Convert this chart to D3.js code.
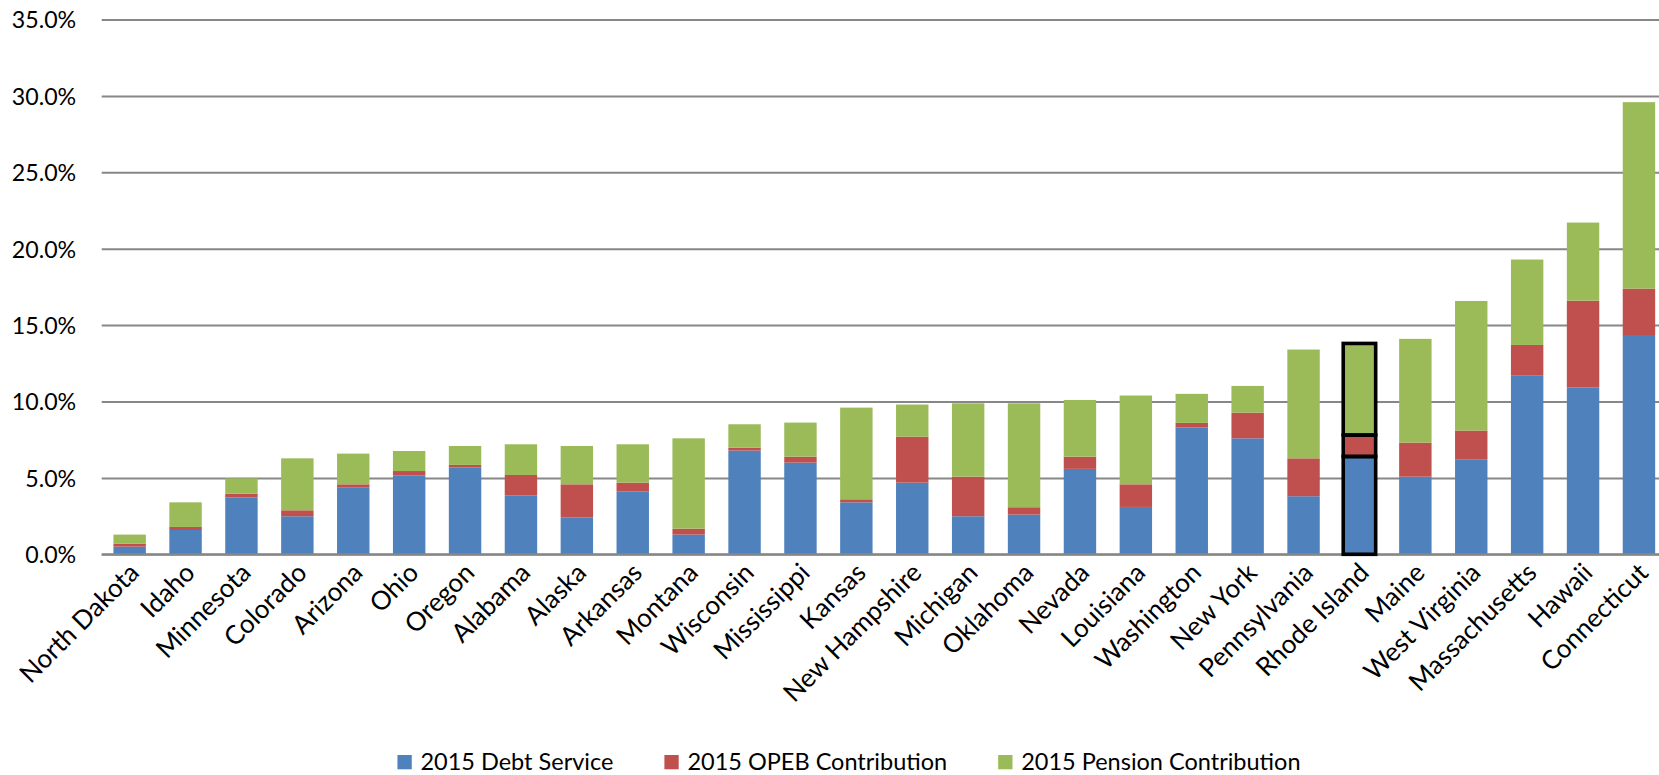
<!DOCTYPE html>
<html>
<head>
<meta charset="utf-8">
<script src="https://cdn.jsdelivr.net/npm/d3@7"></script>
<style>
  html, body { margin: 0; padding: 0; background: #fff; overflow: hidden; }
  text { font-family: Lato, "Open Sans", sans-serif; fill: #000; }
</style>
</head>
<body>
<svg id="chart" width="1659" height="775"></svg>
<script>
// Share of 2015 state revenue, in percent
const states = [
  "North Dakota", "Idaho", "Minnesota", "Colorado", "Arizona", "Ohio", "Oregon",
  "Alabama", "Alaska", "Arkansas", "Montana", "Wisconsin", "Mississippi", "Kansas",
  "New Hampshire", "Michigan", "Oklahoma", "Nevada", "Louisiana", "Washington",
  "New York", "Pennsylvania", "Rhode Island", "Maine", "West Virginia",
  "Massachusetts", "Hawaii", "Connecticut"
];
const debtService = [
  0.50, 1.59, 3.71, 2.49, 4.39, 5.17, 5.67,
  3.86, 2.40, 4.10, 1.29, 6.79, 6.00, 3.40,
  4.69, 2.49, 2.60, 5.59, 3.10, 8.31,
  7.59, 3.80, 6.40, 5.08, 6.22,
  11.72, 10.91, 14.29
];
const opebContribution = [
  0.20, 0.20, 0.26, 0.39, 0.19, 0.28, 0.18,
  1.33, 2.18, 0.59, 0.39, 0.19, 0.39, 0.20,
  3.01, 2.59, 0.48, 0.80, 1.48, 0.29,
  1.68, 2.48, 1.40, 2.23, 1.88,
  1.98, 5.69, 3.10
];
const pensionContribution = [
  0.59, 1.61, 1.00, 3.40, 2.01, 1.31, 1.24,
  2.01, 2.51, 2.51, 5.91, 1.53, 2.23, 6.00,
  2.10, 4.80, 6.80, 3.71, 5.81, 1.90,
  1.75, 7.12, 6.00, 6.79, 8.48,
  5.59, 5.11, 12.20
];
const seriesKeys = ["debt", "opeb", "pension"];
const seriesNames = ["2015 Debt Service", "2015 OPEB Contribution", "2015 Pension Contribution"];
const seriesColors = ["#4F81BD", "#C0504D", "#9BBB59"];
const yTicks = [0, 5, 10, 15, 20, 25, 30, 35];
const highlighted = ["Rhode Island"];

const svg = d3.select("#chart");
const plotLeft = 101.7, plotRight = 1666.9, plotTop = 19.5, plotBottom = 554.3;
const fontSize = 23.2;
const catFontSize = 26;

const rows = states.map((s, i) => ({
  state: s, debt: debtService[i], opeb: opebContribution[i], pension: pensionContribution[i]
}));

const x = d3.scaleBand().domain(states).range([plotLeft, plotRight])
  .paddingInner(0.42).paddingOuter(0.21);
const y = d3.scaleLinear().domain([0, 35]).range([plotBottom, plotTop]);
const color = d3.scaleOrdinal().domain(seriesKeys).range(seriesColors);

// horizontal gridlines and value labels
const yAxis = svg.append("g")
  .attr("transform", `translate(${plotLeft},0)`)
  .call(d3.axisLeft(y).tickValues(yTicks).tickSize(-(plotRight - plotLeft))
        .tickFormat(d => d.toFixed(1) + "%"));
yAxis.select(".domain").remove();
yAxis.selectAll(".tick line").attr("stroke", "#878787").attr("stroke-width", 2);
yAxis.selectAll(".tick text")
  .attr("x", -25.5).attr("dy", "0.36em")
  .style("font-size", fontSize + "px");

// stacked bars
const stacked = d3.stack().keys(seriesKeys)(rows);
const layers = svg.append("g").selectAll("g").data(stacked).join("g")
  .attr("fill", d => color(d.key));
layers.selectAll("rect").data(d => d).join("rect")
  .attr("x", d => x(d.data.state))
  .attr("width", x.bandwidth())
  .attr("y", d => y(d[1]))
  .attr("height", d => y(d[0]) - y(d[1]));

// category axis
const xAxis = svg.append("g")
  .attr("transform", `translate(0,${plotBottom})`)
  .call(d3.axisBottom(x).tickSize(0));
xAxis.select(".domain").attr("stroke", "#878787").attr("stroke-width", 2.2)
  .attr("d", `M${plotLeft},0H${plotRight}`);
xAxis.selectAll(".tick text")
  .style("font-size", catFontSize + "px")
  .attr("text-anchor", "end")
  .attr("dy", 0)
  .attr("transform", "translate(11,20) rotate(-45)")
  .attr("y", 0).attr("x", 0);

// outline around the highlighted state's segments
const hl = svg.append("g");
stacked.forEach(layer => {
  layer.filter(d => highlighted.includes(d.data.state)).forEach(d => {
    hl.append("rect")
      .attr("x", x(d.data.state))
      .attr("width", x.bandwidth())
      .attr("y", y(d[1]))
      .attr("height", y(d[0]) - y(d[1]))
      .attr("fill", "none")
      .attr("stroke", "#000")
      .attr("stroke-width", 3.6);
  });
});

// legend
const legend = svg.append("g");
const items = legend.selectAll("g").data(seriesNames).join("g");
items.append("rect").attr("width", 14.3).attr("height", 14.3).attr("y", 755)
  .attr("fill", (d, i) => seriesColors[i]);
items.append("text").attr("x", 23).attr("y", 770).text(d => d)
  .style("font-size", "23.5px");
let cursor = 0;
const offsets = [];
items.each(function () {
  offsets.push(cursor);
  const tw = d3.select(this).select("text").node().getComputedTextLength();
  cursor += 23 + tw + 51;
});
const total = cursor - 51;
const start = 849 - total / 2;
items.attr("transform", (d, i) => `translate(${start + offsets[i]},0)`);
</script>
</body>
</html>
